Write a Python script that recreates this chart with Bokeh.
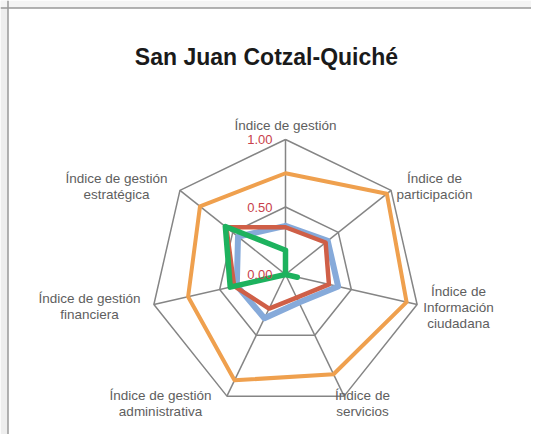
import numpy as np
from bokeh.plotting import figure
from bokeh.models import Range1d, Span, BoxAnnotation
from bokeh.core.properties import value
from bokeh.embed import file_html
from bokeh.resources import INLINE

title = "San Juan Cotzal-Quiché"
categories = [
    ["Índice de gestión"],
    ["Índice de", "participación"],
    ["Índice de", "Información", "ciudadana"],
    ["Índice de", "servicios"],
    ["Índice de gestión", "administrativa"],
    ["Índice de gestión", "financiera"],
    ["Índice de gestión", "estratégica"],
]
tick_values = [0.0, 0.5, 1.0]
tick_labels = ["0.00", "0.50", "1.00"]

serie_naranja = [0.75, 0.96, 0.92, 0.82, 0.87, 0.74, 0.81]
serie_azul = [0.36, 0.40, 0.40, 0.23, 0.36, 0.37, 0.45]
serie_roja = [0.35, 0.38, 0.33, 0.19, 0.28, 0.39, 0.56]
serie_verde = [0.18, 0.00, 0.09, 0.00, 0.00, 0.42, 0.57]

# ---- layout ----
W, H = 531, 434
S = 135.0              # pixels per unit radius
CX, CY = 285.0, 274.0  # centre in screenshot pixels
FL, FT = 0.0, 0.0      # frame left/top in screenshot pixels
FR, FB = FL + W, FT + H

def px(x, y):
    return (x - CX) / S, (CY - y) / S

n = len(categories)
ang = np.pi / 2 - np.arange(n) * 2 * np.pi / n

p = figure(width=W, height=H, output_backend="svg", toolbar_location=None,
           x_range=Range1d((FL - CX) / S, (FR - CX) / S),
           y_range=Range1d((CY - FB) / S, (CY - FT) / S),
           min_border=0, border_fill_color="white", background_fill_color="white")
p.axis.visible = False
p.grid.visible = False
p.outline_line_color = None

# page frame (decoration): shaded strip on the left and a gray border line
bx, by = px(7.5, 7.5)
p.add_layout(BoxAnnotation(right=bx, fill_color="#eeeeee", fill_alpha=1, line_color=None))
p.add_layout(BoxAnnotation(bottom=by, fill_color="#f4f4f4", fill_alpha=1, line_color=None))
p.add_layout(Span(location=bx, dimension="height", line_color="#999999", line_width=1.5))
p.add_layout(Span(location=by, dimension="width", line_color="#999999", line_width=1.5))

grid_col = "#858585"
for r in [0.5, 1.0]:
    xs = list(r * np.cos(ang)) + [r * np.cos(ang[0])]
    ys = list(r * np.sin(ang)) + [r * np.sin(ang[0])]
    p.line(xs, ys, line_color=grid_col, line_width=1.5)
p.segment(x0=[0] * n, y0=[0] * n, x1=list(np.cos(ang)), y1=list(np.sin(ang)),
          line_color=grid_col, line_width=1.5)

def poly(vals):
    v = np.array(vals + [vals[0]])
    a = np.append(ang, ang[0])
    return v * np.cos(a), v * np.sin(a)

for vals, col, lw in [(serie_naranja, "#EFA04E", 4),
                      (serie_azul, "#86AADA", 6),
                      (serie_roja, "#CF5F47", 4.5),
                      (serie_verde, "#1DB25E", 5.5)]:
    x, y = poly(vals)
    p.line(x, y, line_color=col, line_width=lw, line_join="round", line_cap="round")

tx = [(272 - CX) / S] * len(tick_values)
p.text(x=tx, y=tick_values, text=tick_labels, text_align="right", text_baseline="middle",
       text_color="#C8414B", text_font=value("Liberation Sans"), text_font_size="13px")

centres = [(285, 125), (434, 186), (458, 306.5), (362, 403), (160, 403), (89, 305.5), (116, 185.5)]
lh = 16
lx, ly, lt = [], [], []
for (cx, cy), lines in zip(centres, categories):
    k = len(lines)
    for i, t in enumerate(lines):
        yy = cy + (i - (k - 1) / 2) * lh
        a, b = px(cx, yy)
        lx.append(a); ly.append(b); lt.append(t)
p.text(x=lx, y=ly, text=lt, text_align="center", text_baseline="middle",
       text_color="#5e5e5e", text_font=value("Liberation Sans"), text_font_size="13.5px")

tx0, ty0 = px(266, 56.5)
p.text(x=[tx0], y=[ty0], text=[title], text_align="center", text_baseline="alphabetic",
       text_color="#1a1a1a", text_font=value("Liberation Sans"), text_font_size="23px",
       text_font_style="bold")

open("out.html", "w").write(file_html(p, INLINE))
